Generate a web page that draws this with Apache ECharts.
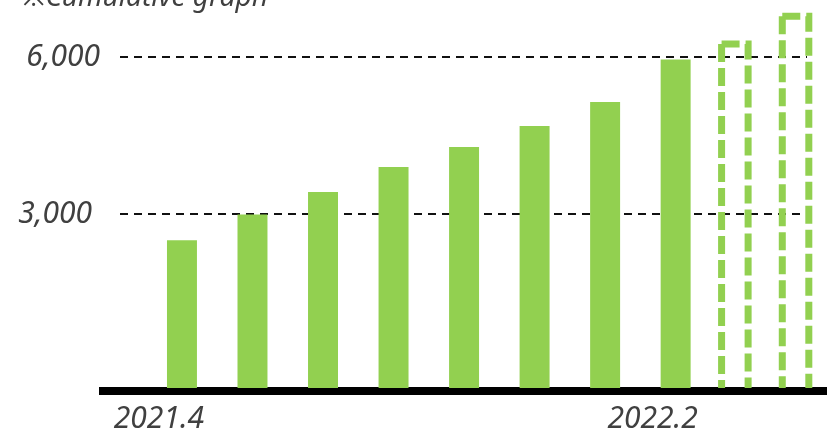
<!DOCTYPE html>
<html>
<head>
<meta charset="utf-8">
<script src="https://cdn.jsdelivr.net/npm/echarts@6/dist/echarts.min.js"></script>
<style>
  html, body { margin: 0; padding: 0; background: #ffffff; }
  #chart { width: 827px; height: 437px; }
</style>
</head>
<body>
<div id="chart"></div>
<script>
// Cumulative totals per period (solid bars)
const periodLabels = ['2021.4', '', '', '', '', '', '', '2022.2'];
const cumulativeValues = [2500, 2990, 3420, 3900, 4280, 4680, 5140, 5950];

// Projected cumulative totals (dashed outline bars)
const projectedLabels = ['', ''];
const projectedValues = [6250, 6780];

// Value-axis ticks with reference lines
const valueTicks = [0, 3000, 6000];

const GREEN = '#92D050';
const TEXT = '#404040';
const FONT = '"Noto Sans", "Open Sans", sans-serif';
const VALUE_MAX = valueTicks[valueTicks.length - 1];
const TICK_STEP = valueTicks[1] - valueTicks[0];
// Bars stand on the heavy baseline, which sits a little below zero
const BAR_AXIS_MIN = -325;

const chart = echarts.init(document.getElementById('chart'), null, { renderer: 'canvas' });

function renderSolid(params, api) {
  const idx = api.value(0);
  const top = api.coord([idx, api.value(1)]);
  const base = api.coord([idx, BAR_AXIS_MIN]);
  const w = api.size([1, 0])[0] * 0.425;
  return {
    type: 'rect',
    shape: { x: top[0] - w / 2, y: top[1], width: w, height: base[1] - top[1] },
    style: { fill: GREEN }
  };
}

function renderProjected(params, api) {
  const idx = api.value(0);
  const top = api.coord([idx, api.value(1)]);
  const base = api.coord([idx, BAR_AXIS_MIN]);
  const w = api.size([1, 0])[0] * 0.437;
  const l = top[0] - w / 2, r = top[0] + w / 2;
  const dashed = { stroke: GREEN, fill: null, lineWidth: 7, lineDash: [18, 6], lineCap: 'butt' };
  return {
    type: 'group',
    children: [
      { type: 'polyline', shape: { points: [[l, top[1]], [r, top[1]], [r, base[1]]] }, style: dashed },
      { type: 'polyline', shape: { points: [[l, top[1]], [l, base[1]]] }, style: dashed }
    ]
  };
}

const hiddenValueAxis = (gridIndex, min, max) => ({
  gridIndex, type: 'value', min, max, show: false
});

chart.setOption({
  animation: false,
  backgroundColor: '#ffffff',
  graphic: [{
    type: 'text',
    left: 22,
    top: -16,
    style: {
      text: '※Cumulative graph',
      font: 'italic 28px ' + FONT,
      fill: TEXT
    }
  }],
  grid: [
    { left: 120, right: 20, top: 57, bottom: 66 },
    { left: 99, right: 0, top: 57, bottom: 46 },
    { left: 146.7, width: 564.2, top: 57, bottom: 49 },
    { left: 704.5, width: 121.4, top: 57, bottom: 49 }
  ],
  xAxis: [
    { gridIndex: 0, type: 'category', data: [''], show: false },
    {
      gridIndex: 1, type: 'value', min: 0, max: 1,
      axisLine: { show: true, onZero: false, lineStyle: { color: '#000000', width: 8, cap: 'butt' } },
      axisTick: { show: false }, axisLabel: { show: false }, splitLine: { show: false }
    },
    {
      gridIndex: 2, type: 'category', data: periodLabels,
      axisLine: { show: false }, axisTick: { show: false },
      axisLabel: {
        interval: (i) => periodLabels[i] !== '',
        margin: 16,
        padding: [0, 46, 0, 0],
        fontStyle: 'italic',
        fontFamily: FONT,
        fontSize: 30,
        color: TEXT
      }
    },
    { gridIndex: 3, type: 'category', data: projectedLabels, show: false }
  ],
  yAxis: [
    {
      gridIndex: 0, type: 'value', min: 0, max: VALUE_MAX, interval: TICK_STEP,
      axisLine: { show: false }, axisTick: { show: false },
      axisLabel: {
        showMinLabel: false,
        margin: 20,
        fontStyle: 'italic',
        fontFamily: FONT,
        fontSize: 30,
        color: TEXT,
        // the lower label sits slightly further out from the reference line
        formatter: (v) => (v < VALUE_MAX ? '{lower|' : '{upper|') + v.toLocaleString('en-US') + '}',
        rich: {
          lower: { fontStyle: 'italic', fontFamily: FONT, fontSize: 30, color: TEXT, padding: [0, 8, 0, 0] },
          upper: { fontStyle: 'italic', fontFamily: FONT, fontSize: 30, color: TEXT }
        }
      },
      splitLine: {
        show: true, showMinLine: false,
        lineStyle: { color: '#111111', width: 2, type: [8, 6] }
      }
    },
    hiddenValueAxis(1, 0, 1),
    hiddenValueAxis(2, BAR_AXIS_MIN, VALUE_MAX),
    hiddenValueAxis(3, BAR_AXIS_MIN, VALUE_MAX)
  ],
  series: [
    {
      type: 'custom', name: 'Cumulative',
      xAxisIndex: 2, yAxisIndex: 2,
      renderItem: renderSolid,
      encode: { x: 0, y: 1 },
      data: cumulativeValues.map((v, i) => [i, v]),
      z: 1
    },
    {
      type: 'custom', name: 'Projected',
      xAxisIndex: 3, yAxisIndex: 3,
      renderItem: renderProjected,
      encode: { x: 0, y: 1 },
      data: projectedValues.map((v, i) => [i, v]),
      z: 1
    }
  ]
});
</script>
</body>
</html>
